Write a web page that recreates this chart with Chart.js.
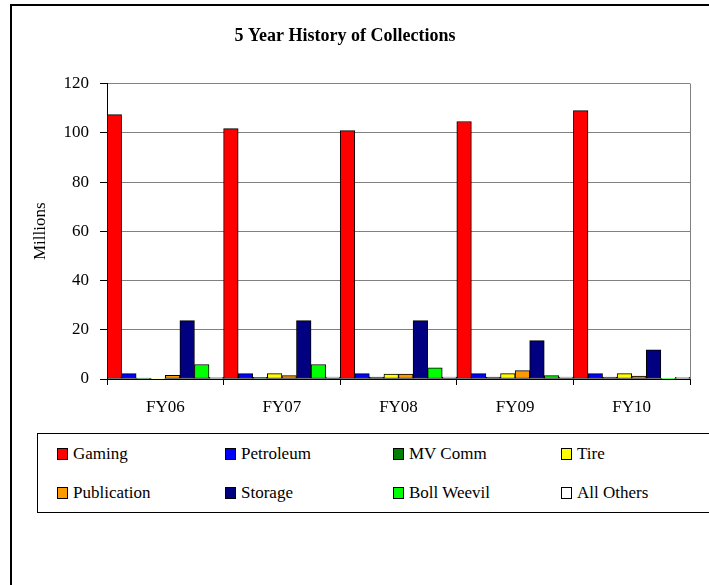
<!DOCTYPE html>
<html>
<head>
<meta charset="utf-8">
<title>5 Year History of Collections</title>
<script src="https://cdn.jsdelivr.net/npm/chart.js@4.4.1/dist/chart.umd.min.js"></script>
<style>
    html, body { margin: 0; padding: 0; background: #fff; overflow: hidden; }
    body { width: 709px; height: 585px; position: relative; }
    #frame { position: absolute; left: 10px; top: 4px; width: 720px; height: 620px; border: 2px solid #000; box-sizing: border-box; }
    #chart-wrap { position: absolute; left: 0; top: 0; width: 720px; height: 425px; }
    #legend {
        position: absolute; left: 37px; top: 433px; width: 690px; height: 80px;
        border: 1px solid #000; box-sizing: border-box;
        display: grid; grid-template-columns: repeat(4, 168px); grid-auto-rows: 39px;
        padding: 0 0 0 19px; align-content: center;
        font-family: "Liberation Serif", "DejaVu Serif", serif; font-size: 17px; color: #000;
    }
    #legend .item { display: flex; align-items: center; white-space: nowrap; }
    #legend .swatch { display: inline-block; width: 9px; height: 10px; border: 1px solid #000; margin-right: 5px; }
</style>
</head>
<body>
<div id="frame"></div>
<div id="chart-wrap"><canvas id="collections-chart"></canvas></div>
<div id="legend"></div>

<script>
const categories = ["FY06", "FY07", "FY08", "FY09", "FY10"];
const seriesNames = ["Gaming", "Petroleum", "MV Comm", "Tire", "Publication", "Storage", "Boll Weevil", "All Others"];
const seriesColors = ["#FF0000", "#0000FF", "#008000", "#FFFF00", "#FF9900", "#000080", "#00FF00", "#FFFFFF"];

// collections in millions, one array per fund
const gaming      = [107.4, 101.7, 100.9, 104.6, 109.0];
const petroleum   = [2.2, 2.2, 2.2, 2.2, 2.2];
const mvComm      = [0.4, 0.7, 0.8, 0.8, 0.8];
const tire        = [0.2, 2.2, 2.0, 2.2, 2.2];
const publication = [1.5, 1.4, 2.0, 3.4, 1.2];
const storage     = [23.7, 23.7, 23.7, 15.6, 11.8];
const bollWeevil  = [5.9, 5.9, 4.5, 1.4, 0.3];
const allOthers   = [0.7, 0.8, 0.8, 0.8, 0.7];

const yTicks = [0, 20, 40, 60, 80, 100, 120];

const seriesValues = [gaming, petroleum, mvComm, tire, publication, storage, bollWeevil, allOthers];
const serif = "'Liberation Serif', 'Times New Roman', serif";

const datasets = seriesNames.map((name, i) => ({
    label: name,
    data: seriesValues[i],
    backgroundColor: seriesColors[i],
    borderColor: "#000",
    borderWidth: 1,
    borderSkipped: false,
    barPercentage: 1,
    categoryPercentage: 1
}));

// gray line closing the plot area on the right
const plotFrame = {
    id: "plotFrame",
    beforeDatasetsDraw(chart) {
        const { ctx, chartArea } = chart;
        ctx.save();
        ctx.strokeStyle = "#808080";
        ctx.lineWidth = 1;
        ctx.beginPath();
        ctx.moveTo(Math.round(chartArea.right) + 0.5, chartArea.top);
        ctx.lineTo(Math.round(chartArea.right) + 0.5, chartArea.bottom);
        ctx.stroke();
        ctx.restore();
    }
};

const chart = new Chart(document.getElementById("collections-chart"), {
    type: "bar",
    data: { labels: categories, datasets },
    plugins: [plotFrame],
    options: {
        responsive: true,
        maintainAspectRatio: false,
        animation: false,
        layout: { padding: { left: 0, right: 30, top: 0, bottom: 0 } },
        plugins: {
            legend: { display: false },
            tooltip: { enabled: false },
            title: {
                display: true,
                text: "5 Year History of Collections",
                color: "#000",
                font: { family: serif, size: 18, weight: "bold" },
                padding: { top: 26, bottom: 36 }
            }
        },
        scales: {
            x: {
                ticks: { color: "#000", font: { family: serif, size: 17 }, padding: 12 },
                grid: { offset: true, drawOnChartArea: false, drawTicks: true, tickLength: 6, color: "#000" },
                border: { display: true, color: "#000" },
                afterFit(scale) { scale.height = 46; }
            },
            y: {
                min: 0,
                max: 120,
                afterBuildTicks(scale) { scale.ticks = yTicks.map(v => ({ value: v })); },
                ticks: { color: "#000", font: { family: serif, size: 17 }, padding: 11 },
                grid: {
                    color: ctx => ctx.tick && ctx.tick.value === 0 ? "#000" : "#808080",
                    tickColor: "#000",
                    tickLength: 7
                },
                border: { display: true, color: "#000" },
                title: {
                    display: true,
                    text: "Millions",
                    color: "#000",
                    font: { family: serif, size: 17 },
                    padding: { top: 30, bottom: 0 }
                },
                afterFit(scale) { scale.width = 107; }
            }
        }
    }
});

// legend built from the chart's own datasets
const legendBox = document.getElementById("legend");
chart.data.datasets.forEach(ds => {
    const item = document.createElement("div");
    item.className = "item";
    item.innerHTML = `<span class="swatch" style="background:${ds.backgroundColor}"></span>${ds.label}`;
    legendBox.appendChild(item);
});
</script>
</body>
</html>
